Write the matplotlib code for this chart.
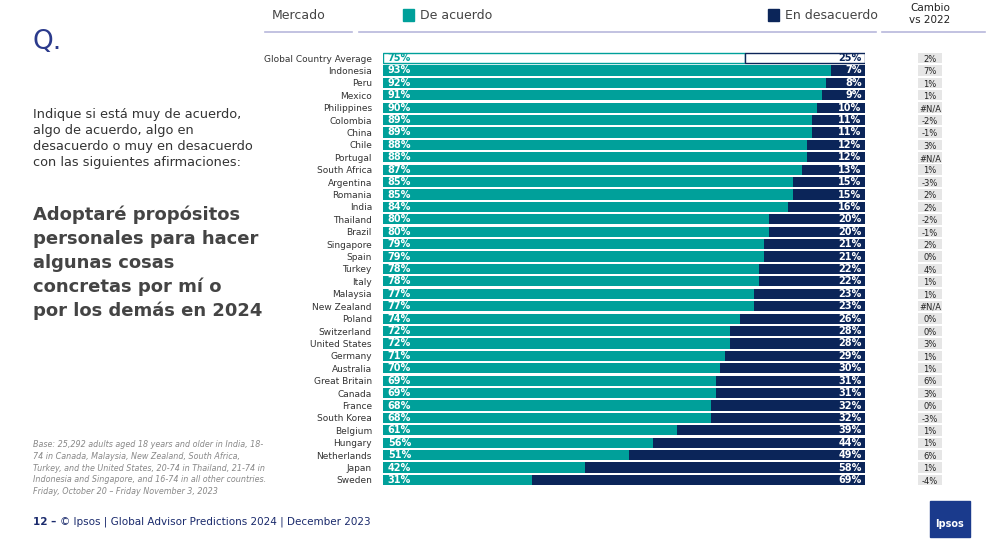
import matplotlib.pyplot as plt
from matplotlib.patches import Rectangle

paises = ["Global Country Average", "Indonesia", "Peru", "Mexico", "Philippines", "Colombia",
          "China", "Chile", "Portugal", "South Africa", "Argentina", "Romania", "India",
          "Thailand", "Brazil", "Singapore", "Spain", "Turkey", "Italy", "Malaysia",
          "New Zealand", "Poland", "Switzerland", "United States", "Germany", "Australia",
          "Great Britain", "Canada", "France", "South Korea", "Belgium", "Hungary",
          "Netherlands", "Japan", "Sweden"]
acuerdo = [75, 93, 92, 91, 90, 89, 89, 88, 88, 87, 85, 85, 84, 80, 80, 79, 79, 78, 78, 77,
           77, 74, 72, 72, 71, 70, 69, 69, 68, 68, 61, 56, 51, 42, 31]
desacuerdo = [25, 7, 8, 9, 10, 11, 11, 12, 12, 13, 15, 15, 16, 20, 20, 21, 21, 22, 22, 23,
              23, 26, 28, 28, 29, 30, 31, 31, 32, 32, 39, 44, 49, 58, 69]
cambio = ["2%", "7%", "1%", "1%", "#N/A", "-2%", "-1%", "3%", "#N/A", "1%", "-3%", "2%", "2%",
          "-2%", "-1%", "2%", "0%", "4%", "1%", "1%", "#N/A", "0%", "0%", "3%", "1%", "1%",
          "6%", "3%", "0%", "-3%", "1%", "1%", "6%", "1%", "-4%"]

teal = "#00A09A"
navy = "#0B2559"

fig = plt.figure(figsize=(10, 5.54), dpi=100)
ax = fig.add_axes([0.383, 0.1224, 0.482, 0.7841])
n = len(paises)
y = list(range(n))
for i in y:
    a, d = acuerdo[i], desacuerdo[i]
    if i == 0:
        ax.barh(i, a, height=0.82, color="white", edgecolor=teal, lw=1)
        ax.barh(i, d, left=a, height=0.82, color="white", edgecolor=navy, lw=1)
        ca, cd = teal, navy
    else:
        ax.barh(i, a, height=0.82, color=teal)
        ax.barh(i, d, left=a, height=0.82, color=navy)
        ca, cd = "white", "white"
    ax.text(1, i, f"{a}%", color=ca, va="center", ha="left", fontsize=7, fontweight="bold")
    ax.text(99.3, i, f"{d}%", color=cd, va="center", ha="right", fontsize=7, fontweight="bold")
ax.set_xlim(0, 100)
ax.set_ylim(n - 0.5, -0.5)
ax.set_yticks(y)
ax.set_yticklabels(paises, fontsize=6.5, color="#333333")
ax.tick_params(length=0, pad=8)
ax.set_xticks([])
for s in ax.spines.values():
    s.set_visible(False)

# columna de cambio
ax2 = fig.add_axes([0.915, 0.1224, 0.03, 0.7841])
ax2.set_xlim(0, 1)
ax2.set_ylim(n - 0.5, -0.5)
ax2.axis("off")
for i in y:
    ax2.add_patch(Rectangle((0.1, i - 0.42), 0.8, 0.84, color="#E6E6E6", lw=0))
    ax2.text(0.5, i + 0.1, cambio[i], ha="center", va="center", fontsize=6, color="#222222")

# encabezados
fig.text(0.272, 0.972, "Mercado", fontsize=9, color="#444444", va="center")
fig.add_artist(Rectangle((0.403, 0.962), 0.011, 0.022, color=teal))
fig.text(0.42, 0.972, "De acuerdo", fontsize=9, color="#444444", va="center")
fig.add_artist(Rectangle((0.768, 0.962), 0.011, 0.022, color=navy))
fig.text(0.785, 0.972, "En desacuerdo", fontsize=9, color="#444444", va="center")
fig.text(0.93, 0.975, "Cambio\nvs 2022", fontsize=7.5, color="#222222", ha="center", va="center")
lc = "#B8B8DC"
fig.add_artist(plt.Line2D([0.265, 0.352], [0.942, 0.942], color=lc, lw=1.2))
fig.add_artist(plt.Line2D([0.359, 0.876], [0.942, 0.942], color=lc, lw=1.2))
fig.add_artist(plt.Line2D([0.882, 0.985], [0.942, 0.942], color=lc, lw=1.2))

# texto izquierdo
fig.text(0.033, 0.925, "Q.", fontsize=19, color="#2B3A8C", va="center")
fig.text(0.033, 0.75, "Indique si está muy de acuerdo,\nalgo de acuerdo, algo en\ndesacuerdo o muy en desacuerdo\ncon las siguientes afirmaciones:",
         fontsize=9.3, color="#333333", va="center", linespacing=1.3)
fig.text(0.033, 0.525, "Adoptaré propósitos\npersonales para hacer\nalgunas cosas\nconcretas por mí o\npor los demás en 2024",
         fontsize=13, color="#444444", fontweight="bold", va="center", linespacing=1.4)
fig.text(0.033, 0.155, "Base: 25,292 adults aged 18 years and older in India, 18-\n74 in Canada, Malaysia, New Zealand, South Africa,\nTurkey, and the United States, 20-74 in Thailand, 21-74 in\nIndonesia and Singapore, and 16-74 in all other countries.\nFriday, October 20 – Friday November 3, 2023",
         fontsize=5.8, color="#888888", style="italic", va="center", linespacing=1.4)
fig.text(0.033, 0.058, "12 –", fontsize=7.5, color="#1A2A6C", fontweight="bold", va="center")
fig.text(0.06, 0.058, "© Ipsos | Global Advisor Predictions 2024 | December 2023", fontsize=7.5,
         color="#1A2A6C", va="center")
fig.add_artist(Rectangle((0.93, 0.03), 0.04, 0.065, color="#1A3A8C"))
fig.text(0.95, 0.055, "Ipsos", fontsize=7, color="white", fontweight="bold", ha="center", va="center")

fig.savefig("out.png", dpi=100)
